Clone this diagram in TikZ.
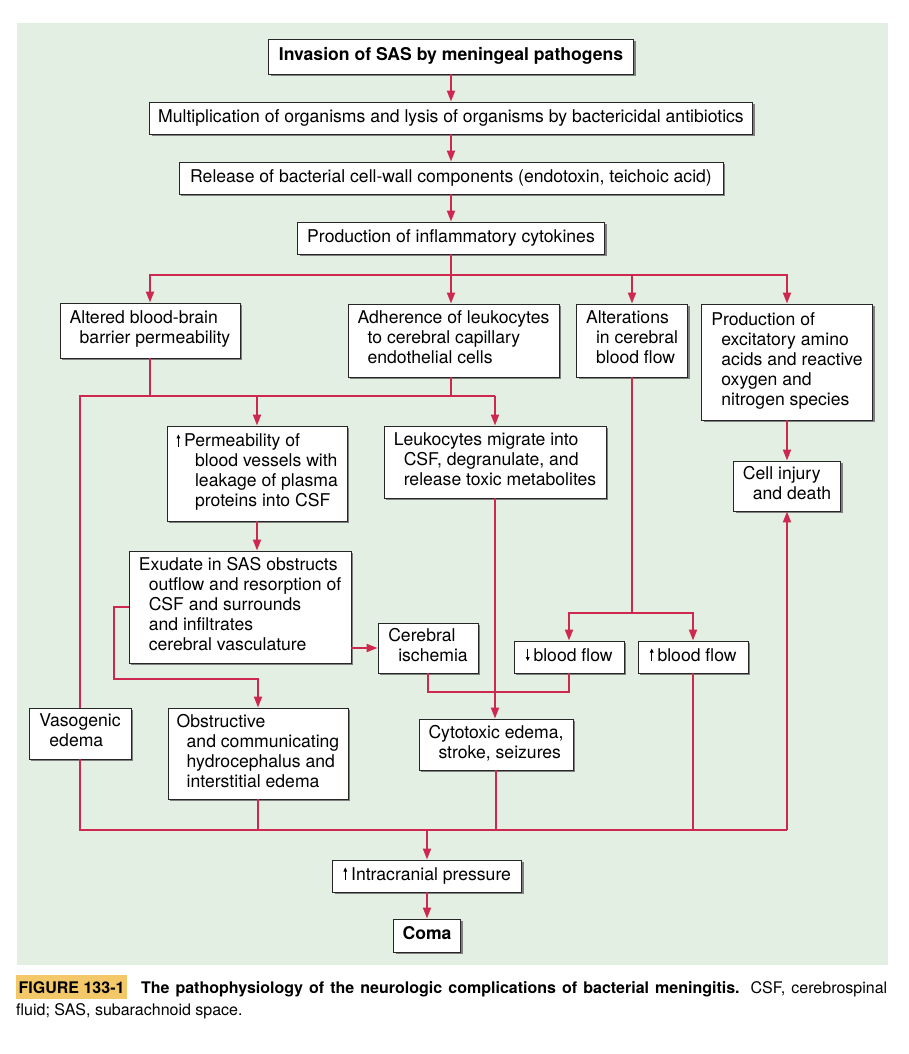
\documentclass[tikz,border=0pt]{standalone}
\usepackage{fontspec}
\setmainfont{TeX Gyre Heros}
\usetikzlibrary{arrows.meta,shadows}

\definecolor{panelgreen}{RGB}{228,239,227}
\definecolor{linkred}{RGB}{205,40,80}
\definecolor{figyellow}{RGB}{242,200,105}

% small arrows inside the box texts
\newcommand{\uparr}{\kern0.5pt\tikz[baseline=0pt]\draw[black,line width=0.8pt,-{Triangle[length=4pt,width=3.6pt]}] (0pt,0pt) -- (0pt,12.5pt);\kern4pt}
\newcommand{\dnarr}{\kern0.5pt\tikz[baseline=0pt]\draw[black,line width=0.8pt,-{Triangle[length=4pt,width=3.6pt]}] (0pt,12.5pt) -- (0pt,0pt);\kern4pt}
\newcommand{\ind}{\hspace*{10pt}}
\newcommand{\indd}{\hspace*{19pt}}

\begin{document}
\begin{tikzpicture}[x=1pt,y=-1pt,
  box/.style={draw=black!85, line width=0.9pt, fill=white, align=left, inner sep=0pt,
    font=\fontsize{17.6}{20}\selectfont,
    drop shadow={shadow xshift=2.2pt, shadow yshift=-2.2pt, fill=black!50, opacity=1},
    execute at begin node=\strut, execute at end node=\strut},
  boldbox/.style={box, font=\fontsize{17.6}{20}\selectfont\bfseries},
  conn/.style={draw=linkred, line width=2pt},
  arr/.style={conn, -{Triangle[length=11pt,width=8pt]}}]
\useasboundingbox (0,0) rectangle (908,1054);
\fill[panelgreen] (17,23) rectangle (888,965);

% main chain
\node[boldbox, minimum width=365pt, minimum height=35pt] (inv) at (451,56.5) {Invasion of SAS by meningeal pathogens};
\node[box, minimum width=603pt, minimum height=32pt] (mult) at (451,118) {Multiplication of organisms and lysis of organisms by bactericidal antibiotics};
\node[box, minimum width=544pt, minimum height=32pt] (rel) at (451,178) {Release of bacterial cell-wall components (endotoxin, teichoic acid)};
\node[box, minimum width=307pt, minimum height=32pt] (prod) at (451,238) {Production of inflammatory cytokines};

% four branches
\node[box, minimum width=180pt, minimum height=55pt] (alt) at (150,330.5) {Altered blood-brain\\\ind barrier permeability};
\node[box, minimum width=211pt, minimum height=73pt] (adh) at (453.5,340.5) {Adherence of leukocytes\\\ind to cerebral capillary\\\ind endothelial cells};
\node[box, minimum width=111pt, minimum height=73pt] (cbf) at (632,340.5) {Alterations\\\ind in cerebral\\\ind blood flow};
\node[box, minimum width=171pt, minimum height=116pt] (exc) at (787,362) {Production of\\\ind excitatory amino\\\ind acids and reactive\\\ind oxygen and\\\ind nitrogen species};
\node[box, minimum width=107pt, minimum height=50pt] (cell) at (787,486) {Cell injury\\\ind and death};

\node[box, minimum width=180pt, minimum height=95pt] (perm) at (257,473.5) {\uparr Permeability of\\\indd blood vessels with\\\indd leakage of plasma\\\indd proteins into CSF};
\node[box, minimum width=222pt, minimum height=72pt] (leu) at (495,462) {Leukocytes migrate into\\\ind CSF, degranulate, and\\\ind release toxic metabolites};
\node[box, minimum width=222pt, minimum height=112pt] (exu) at (240,607) {Exudate in SAS obstructs\\\ind outflow and resorption of\\\ind CSF and surrounds\\\ind and infiltrates\\\ind cerebral vasculature};
\node[box, minimum width=100pt, minimum height=50pt] (isch) at (428,648) {Cerebral\\\ind ischemia};
\node[box, minimum width=110pt, minimum height=32pt] (dec) at (569,657) {\dnarr blood flow};
\node[box, minimum width=110pt, minimum height=32pt] (inc) at (693,657) {\uparr blood flow};

% outcomes
\node[box, minimum width=102pt, minimum height=51pt] (vas) at (80,733.5) {Vasogenic\\\ind edema};
\node[box, minimum width=180pt, minimum height=91pt] (obs) at (258,753.5) {Obstructive\\\ind and communicating\\\ind hydrocephalus and\\\ind interstitial edema};
\node[box, minimum width=154pt, minimum height=51pt] (cyt) at (496,744.5) {Cytotoxic edema,\\\ind stroke, seizures};
\node[box, minimum width=189pt, minimum height=32pt] (icp) at (427,876) {\uparr Intracranial pressure};
\node[boldbox, minimum width=67pt, minimum height=33pt] (coma) at (427,935.5) {Coma};

\coordinate (split) at (451,275);
\coordinate (mid) at (451,396);
\coordinate (exubend) at (114,679);
\coordinate (ischbend) at (569,692);
\coordinate (cbfsplit) at (632,613);
\coordinate (bot) at (427,830);

\draw[arr] (inv) -- (mult);
\draw[arr] (mult) -- (rel);
\draw[arr] (rel) -- (prod);
\draw[conn] (prod) -- (split);
\draw[arr] (split) -| (alt);
\draw[arr] (split) -- (split |- adh.north);
\draw[arr] (split) -| (cbf);
\draw[arr] (split) -| (exc);

\draw[conn] (alt) -- (alt |- mid);
\draw[conn] (mid |- adh.south) -- (mid);
\draw[conn] (vas) |- (leu.north |- mid);
\draw[arr] (perm.north |- mid) -- (perm);
\draw[arr] (leu.north |- mid) -- (leu);
\draw[arr] (perm) -- (perm |- exu.north);
\draw[arr] (exu.east |- isch) -- (isch);
\draw[arr] (exu) -| (exubend) -| (obs);
\draw[arr] (leu) -- (leu |- cyt.north);
\draw[conn] (isch) |- (ischbend) -- (dec);
\draw[conn] (cbf) -- (cbfsplit);
\draw[arr] (cbfsplit) -| (dec);
\draw[arr] (cbfsplit) -| (inc);
\draw[arr] (exc) -- (cell);

\draw[conn] (vas) |- (cell.south |- bot);
\draw[arr] (cell.south |- bot) -- (cell);
\draw[conn] (obs) -- (obs |- bot);
\draw[conn] (cyt) -- (cyt |- bot);
\draw[conn] (inc) -- (inc |- bot);
\draw[arr] (bot) -- (icp);
\draw[arr] (icp) -- (coma);

% caption
\node[anchor=north west, inner sep=0pt, text width=871pt, align=justify, font=\fontsize{16}{22}\selectfont] (caption) at (16,975)
  {\noindent{\fboxsep=0pt\colorbox{figyellow}{\kern2.5pt\rule[-6pt]{0pt}{24pt}\textbf{FIGURE 133-1}\kern2.5pt}}\hspace{14pt}\textbf{The pathophysiology of the neurologic complications of bacterial meningitis.} CSF, cerebrospinal\linebreak fluid; SAS, subarachnoid space.};
\end{tikzpicture}
\end{document}
